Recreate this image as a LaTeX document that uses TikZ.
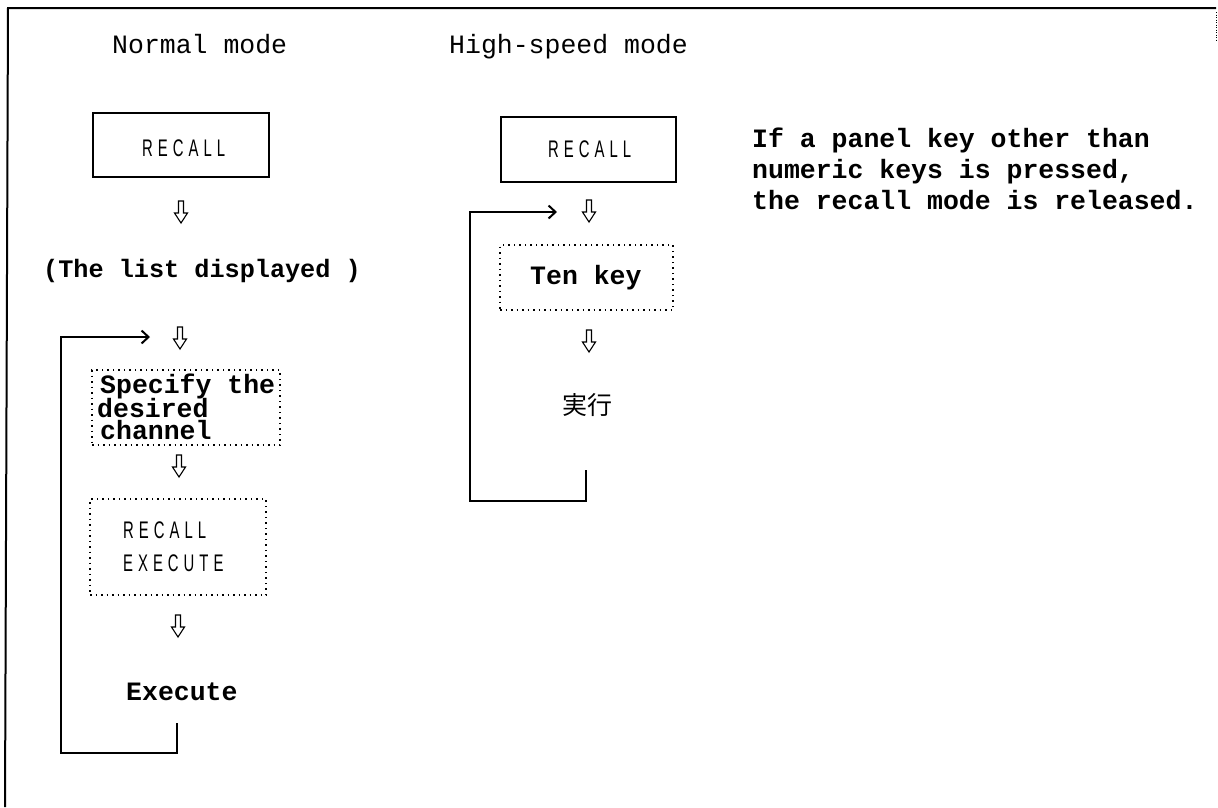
\documentclass[tikz,border=0pt]{standalone}
\usepackage{fontspec}
\usetikzlibrary{arrows.meta}
\newfontfamily\monof{Liberation Mono}
\newfontfamily\narrowf[FakeStretch=0.62]{Liberation Sans}
\newfontfamily\cjkf{Noto Sans CJK JP}
\newcommand\lsp{\kern5pt}
\tikzset{
  txt/.style={inner sep=0pt, anchor=base west, font=\monof\fontsize{26.5}{27.5}\selectfont},
  btxt/.style={inner sep=0pt, anchor=base west, font=\monof\bfseries\fontsize{26.5}{27.5}\selectfont},
  keytxt/.style={inner sep=0pt, anchor=base west, font=\narrowf\fontsize{24}{26}\selectfont},
  solidbox/.style={draw, line width=1.4pt, inner sep=0pt},
  dotbox/.style={draw, line width=1.3pt, dash pattern=on 1.5pt off 4pt, inner sep=0pt},
  loopline/.style={line width=2.2pt, line join=miter, -{Straight Barb[length=7pt,width=13pt,line width=2pt]}},
  frameline/.style={line width=2pt},
  darr/.pic={\draw[line width=1.1pt, line join=miter] (-2.5,-11) -- (2.5,-11) -- (2.5,1) -- (6.5,1) -- (0,11) -- (-6.5,1) -- (-2.5,1) -- cycle;}
}
\begin{document}
\begin{tikzpicture}[x=1pt,y=-1pt]
\useasboundingbox (0,0) rectangle (1218,807);
\fill[white] (0,0) rectangle (1218,807);
% frame
\coordinate (fTL) at (8,8);
\coordinate (fTR) at (1216,8);
\coordinate (fBL) at (5,807);
\coordinate (fR1) at (1216,12);
\coordinate (fR2) at (1216,40);
\draw[frameline] (fBL) -- (fTL) -- (fTR);
\draw[line width=0.8pt, dash pattern=on 1pt off 1.5pt] (fR1) -- (fR2);

% titles
\node[txt] (tNormal) at (112,53) {Normal mode};
\node[txt] (tHigh) at (449,53) {High-speed mode};

% normal mode column
\node[solidbox, minimum width=176pt, minimum height=64pt] (bRecallN) at (181,145) {};
\node[keytxt] (tRecallN) at (142,156) {R\lsp E\lsp C\lsp A\lsp L\lsp L};
\coordinate (a1) at (181,212);
\pic at (a1) {darr};
\node[btxt, font=\monof\bfseries\fontsize{25.2}{27}\selectfont] (tList) at (43,277) {(The list displayed )};
\coordinate (a2) at (180,338);
\pic at (a2) {darr};
\node[dotbox, minimum width=188pt, minimum height=75pt] (bSpec) at (186,407.5) {};
\node[btxt] (tSpec1) at (100,393) {Specify the};
\node[btxt] (tSpec2) at (97,417) {desired};
\node[btxt] (tSpec3) at (100,439) {channel};
\coordinate (a3) at (179,466);
\pic at (a3) {darr};
\node[dotbox, minimum width=176pt, minimum height=96pt] (bRecEx) at (178,547) {};
\node[keytxt] (tRecEx1) at (123,538) {R\lsp E\lsp C\lsp A\lsp L\lsp L};
\node[keytxt] (tRecEx2) at (123,571) {E\lsp X\lsp E\lsp C\lsp U\lsp T\lsp E};
\coordinate (a4) at (178,626);
\pic at (a4) {darr};
\node[btxt] (tExec) at (126,700) {Execute};
\coordinate (nL0) at (177,723);
\coordinate (nL1) at (61,753);
\coordinate (nL2) at (150,337);
\draw[loopline] (nL0) |- (nL1) |- (nL2);

% high-speed column
\node[solidbox, minimum width=175pt, minimum height=65pt] (bRecallH) at (588.5,149.5) {};
\node[keytxt] (tRecallH) at (548,157) {R\lsp E\lsp C\lsp A\lsp L\lsp L};
\coordinate (b1) at (589,211);
\pic at (b1) {darr};
\node[dotbox, minimum width=173pt, minimum height=65pt] (bTen) at (586.5,277.5) {};
\node[btxt] (tTen) at (530,284) {Ten key};
\coordinate (b2) at (589,341);
\pic at (b2) {darr};
\node[inner sep=0pt, font=\cjkf\fontsize{25}{27}\selectfont] (tJikko) at (587,405) {実行};
\coordinate (hL0) at (586,470);
\coordinate (hL1) at (470,501);
\coordinate (hL2) at (557,212);
\draw[loopline] (hL0) |- (hL1) |- (hL2);

% note
\node[btxt] (tNote1) at (752,147) {If a panel key other than};
\node[btxt] (tNote2) at (752,178) {numeric keys is pressed,};
\node[btxt] (tNote3) at (752,209) {the recall mode is released.};
\end{tikzpicture}
\end{document}
